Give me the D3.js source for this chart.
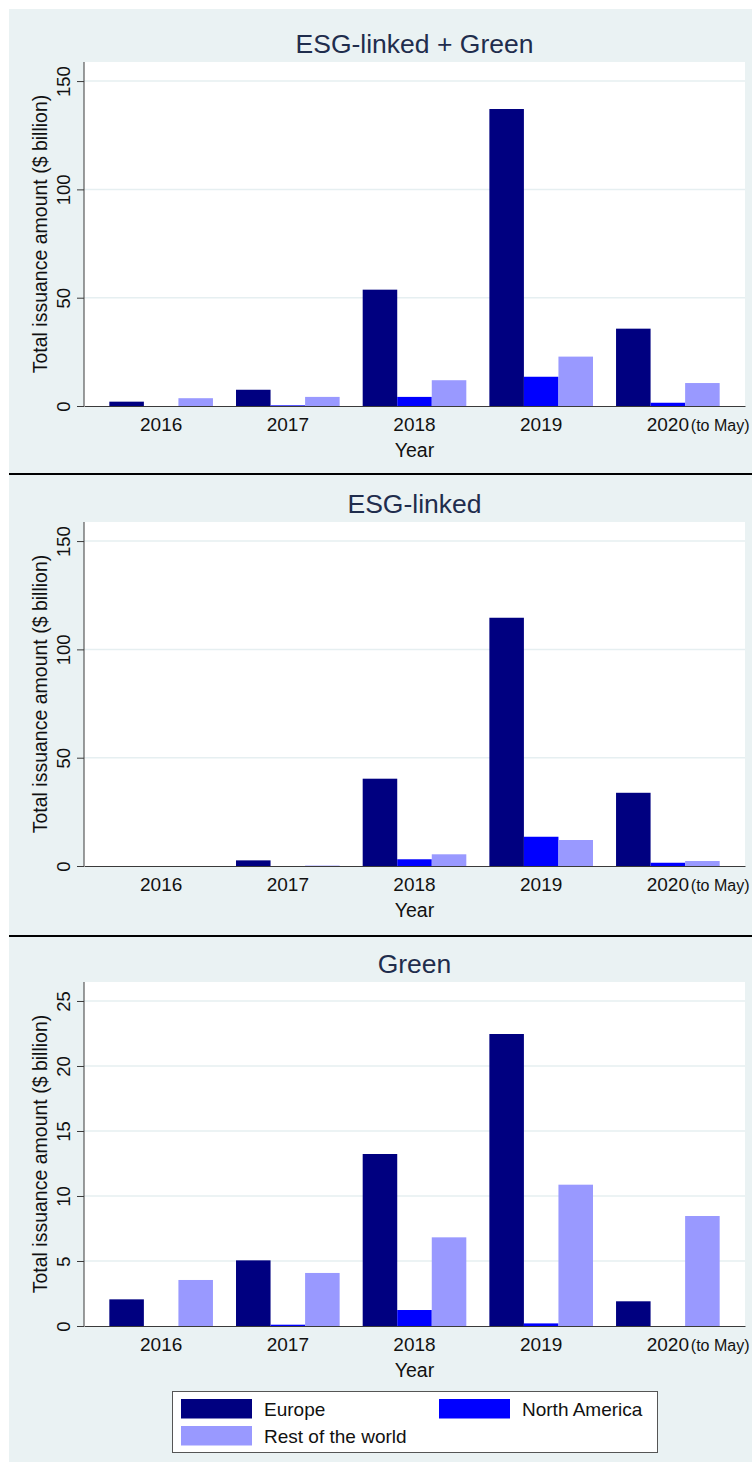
<!DOCTYPE html>
<html>
<head>
<meta charset="utf-8">
<script src="https://cdn.jsdelivr.net/npm/d3@7"></script>
<style>
  body { margin: 0; background: #ffffff; }
  svg { display: block; font-family: "Liberation Sans", Arial, sans-serif; }
</style>
</head>
<body>
<svg id="chart" width="752" height="1462"></svg>
<script>
// data ($ billion)
const years = ["2016", "2017", "2018", "2019", "2020"];
const lastYearNote = "(to May)";
const regions = ["Europe", "North America", "Rest of the world"];
const panelTitles = ["ESG-linked + Green", "ESG-linked", "Green"];

const europeAll = [2.0, 7.5, 53.7, 137.1, 35.7];
const northAmericaAll = [0, 0.3, 4.2, 13.5, 1.5];
const restAll = [3.6, 4.2, 11.9, 22.8, 10.6];

const europeEsg = [0, 2.6, 40.3, 114.6, 33.8];
const northAmericaEsg = [0, 0, 3.1, 13.5, 1.5];
const restEsg = [0, 0.2, 5.4, 12.0, 2.3];

const europeGreen = [2.05, 5.05, 13.23, 22.46, 1.9];
const northAmericaGreen = [0, 0.1, 1.23, 0.2, 0];
const restGreen = [3.54, 4.08, 6.82, 10.87, 8.46];

const ticksBig = [0, 50, 100, 150];
const ticksGreen = [0, 5, 10, 15, 20, 25];
const yMaxBig = 158.8;
const yMaxGreen = 26.46;

const colors = ["#000080", "#0000ff", "#9999ff"];

let panels = [
  {title: panelTitles[0], series: [europeAll, northAmericaAll, restAll], ticks: ticksBig, ymax: yMaxBig},
  {title: panelTitles[1], series: [europeEsg, northAmericaEsg, restEsg], ticks: ticksBig, ymax: yMaxBig},
  {title: panelTitles[2], series: [europeGreen, northAmericaGreen, restGreen], ticks: ticksGreen, ymax: yMaxGreen}
];

let svg = d3.select("#chart");
let bg = "#eaf2f3";
let titleColor = "#1f2d4d";

// light blue-grey graph region
svg.append("rect").attr("x", 9).attr("y", 9).attr("width", 743).attr("height", 1453).attr("fill", bg);

let plotLeft = 84, plotRight = 745, plotTop = 62, plotBottom = 406;
let panelStep = 460;

let x0 = d3.scaleBand().domain(years).range([plotLeft, plotRight]).paddingInner(0.182).paddingOuter(0.2);
let x1 = d3.scaleBand().domain(regions).range([0, x0.bandwidth()]).padding(0);

panels.forEach(function(p, k){
  let g = svg.append("g").attr("transform", "translate(0," + (k * panelStep) + ")");
  let y = d3.scaleLinear().domain([0, p.ymax]).range([plotBottom, plotTop]);

  g.append("rect")
    .attr("x", plotLeft).attr("y", plotTop)
    .attr("width", plotRight - plotLeft).attr("height", plotBottom - plotTop)
    .attr("fill", "#ffffff");

  // grid
  g.selectAll(".grid")
    .data(p.ticks.filter(t => t > 0))
    .enter().append("line")
    .attr("x1", plotLeft).attr("x2", plotRight)
    .attr("y1", d => y(d)).attr("y2", d => y(d))
    .attr("stroke", "#e6eff1").attr("stroke-width", 1.5);

  // title
  g.append("text")
    .attr("x", (plotLeft + plotRight) / 2).attr("y", 53)
    .attr("text-anchor", "middle")
    .attr("font-size", 26.5)
    .attr("fill", titleColor)
    .text(p.title);

  // bars
  let groups = g.selectAll(".grp")
    .data(years)
    .enter().append("g")
    .attr("transform", d => "translate(" + x0(d) + ",0)");
  groups.selectAll("rect")
    .data((d, i) => regions.map((r, j) => ({region: r, value: p.series[j][i], c: colors[j]})))
    .enter().append("rect")
    .attr("x", d => x1(d.region))
    .attr("width", x1.bandwidth())
    .attr("y", d => y(d.value))
    .attr("height", d => y(0) - y(d.value))
    .attr("fill", d => d.c);

  // y axis
  let ya = g.append("g").attr("transform", "translate(" + plotLeft + ",0)")
    .call(d3.axisLeft(y).tickValues(p.ticks).tickSize(7).tickSizeOuter(0));
  ya.select(".domain").attr("stroke", "#3a3a3a").attr("d", "M0," + plotTop + "V" + plotBottom);
  ya.selectAll(".tick line").attr("stroke", "#3a3a3a");
  ya.selectAll(".tick text")
    .attr("x", null).attr("dy", null)
    .attr("transform", "translate(-14,0) rotate(-90)")
    .attr("text-anchor", "middle")
    .attr("font-size", 18.5)
    .attr("font-family", "Liberation Sans, Arial, sans-serif")
    .attr("fill", "#111");

  g.append("text")
    .attr("transform", "translate(47," + ((plotTop + plotBottom) / 2) + ") rotate(-90)")
    .attr("text-anchor", "middle")
    .attr("font-size", 19.5)
    .attr("fill", "#111")
    .text("Total issuance amount ($ billion)");

  // x axis
  let xa = g.append("g").attr("transform", "translate(0," + plotBottom + ")")
    .call(d3.axisBottom(x0).tickSize(0).tickSizeOuter(0));
  xa.select(".domain").attr("stroke", "#3a3a3a").attr("stroke-width", 1.2);
  xa.selectAll(".tick text")
    .attr("y", 25).attr("dy", null)
    .attr("font-size", 19)
    .attr("font-family", "Liberation Sans, Arial, sans-serif")
    .attr("fill", "#111");
  let last = years[years.length - 1];
  g.append("text")
    .attr("x", x0(last) + x0.bandwidth() / 2 + 23).attr("y", plotBottom + 25)
    .attr("font-size", 16)
    .attr("fill", "#111")
    .text(lastYearNote);

  g.append("text")
    .attr("x", (plotLeft + plotRight) / 2).attr("y", 457)
    .attr("text-anchor", "middle")
    .attr("font-size", 19.5)
    .attr("fill", "#111")
    .text("Year");
});

// separators between panels
[474, 936].forEach(function(sy){
  svg.append("line").attr("x1", 9).attr("x2", 752).attr("y1", sy).attr("y2", sy)
    .attr("stroke", "#000").attr("stroke-width", 2.2);
});

// legend
let leg = svg.append("g");
leg.append("rect").attr("x", 172.5).attr("y", 1391.5).attr("width", 485).attr("height", 61)
  .attr("fill", "#fff").attr("stroke", "#555").attr("stroke-width", 1);
let legPos = [[181, 1399], [439, 1399], [181, 1426]];
regions.forEach(function(r, j){
  leg.append("rect").attr("x", legPos[j][0]).attr("y", legPos[j][1]).attr("width", 71).attr("height", 19.5)
    .attr("fill", colors[j]);
  leg.append("text").attr("x", legPos[j][0] + 83).attr("y", legPos[j][1] + 17)
    .attr("font-size", 19).attr("fill", "#111").text(r);
});
</script>
</body>
</html>
